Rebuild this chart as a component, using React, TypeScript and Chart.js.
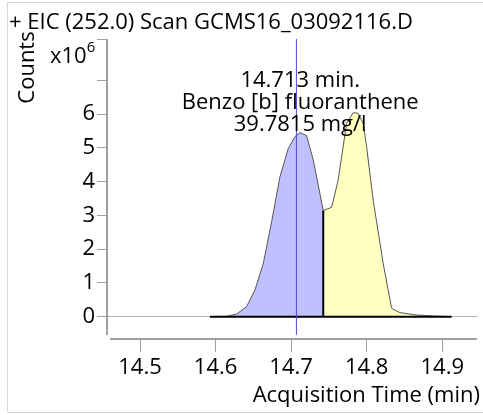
import React, { useEffect, useRef } from "react";
import { Chart, registerables } from "chart.js";

Chart.register(...registerables);

// ---- data (counts in units of 10^6) ----
const peakATimes = [14.5926, 14.6147, 14.6279, 14.6411, 14.6521, 14.6632, 14.6742, 14.6852, 14.6962, 14.705, 14.7116, 14.7205, 14.7293, 14.7425];
const peakACounts = [0, 0.01, 0.08, 0.3, 0.79, 1.58, 2.81, 4.14, 4.98, 5.33, 5.45, 5.36, 4.64, 3.14];
const peakBTimes = [14.7425, 14.7536, 14.7623, 14.7734, 14.7822, 14.7888, 14.7954, 14.7999, 14.8086, 14.8218, 14.833, 14.8439, 14.866, 14.888, 14.9123];
const peakBCounts = [3.14, 3.24, 4.05, 5.72, 6.04, 6.02, 5.72, 5.03, 3.45, 1.58, 0.25, 0.12, 0.05, 0.02, 0];
const baselineTimes = [14.5926, 14.9123];
const baselineCounts = [0, 0];
const splitTimes = [14.7425, 14.7425];
const splitCounts = [0, 3.14];
const markerTimes = [14.707, 14.707];
const markerCounts = [-0.54, 8.22];
const xTickValues = [14.5, 14.6, 14.7, 14.8, 14.9];
const yTickValues = [0, 1, 2, 3, 4, 5, 6, 7];
const yLabelledMax = 6;
const xRange = [14.4563, 14.946];
const yRange = [-0.66, 8.22];

const titleText = "+ EIC (252.0) Scan GCMS16_03092116.D";
const yTitle = "Counts";
const yMultiplierBase = "x10";
const yMultiplierExp = "6";
const xTitle = "Acquisition Time (min)";
const annotationLines = ["14.713 min.", "Benzo [b] fluoranthene", "39.7815 mg/l"];
const annotationTime = 14.712;

const FONT = '"Open Sans", "DejaVu Sans", sans-serif';

const zip = (xs: number[], ys: number[]) => xs.map((x, i) => ({ x, y: ys[i] }));

export default function App() {
  const ref = useRef<HTMLCanvasElement | null>(null);

  useEffect(() => {
    document.body.style.margin = "0";
    const canvas = ref.current!;
    const decor = {
      id: "decor",
      beforeDraw(chart: any) {
        const c = chart.ctx;
        c.save();
        c.strokeStyle = "#d8d8d8";
        c.lineWidth = 1;
        c.beginPath();
        c.moveTo(483, 2.5);
        c.lineTo(7.5, 2.5);
        c.lineTo(7.5, 412.5);
        c.lineTo(483, 412.5);
        c.stroke();
        c.restore();
      },
      afterDraw(chart: any) {
        const c = chart.ctx;
        const a = chart.chartArea;
        const xs = chart.scales.x;
        c.save();
        // axis lines with a gap at the corner
        c.strokeStyle = "#a0a0a0";
        c.lineWidth = 2;
        c.beginPath();
        c.moveTo(a.left, a.top);
        c.lineTo(a.left, a.bottom - 4);
        c.moveTo(a.left + 3, a.bottom);
        c.lineTo(a.right, a.bottom);
        c.stroke();

        c.fillStyle = "#000";
        c.textBaseline = "alphabetic";
        c.font = `22px ${FONT}`;
        c.textAlign = "left";
        c.fillText(titleText, 9, 28.5);

        // y title
        c.save();
        c.translate(33.5, 67.5);
        c.rotate(-Math.PI / 2);
        c.textAlign = "center";
        c.fillText(yTitle, 0, 0);
        c.restore();

        // multiplier
        c.textAlign = "left";
        c.fillText(yMultiplierBase, 50, 63);
        const w = c.measureText(yMultiplierBase).width;
        c.font = `15px ${FONT}`;
        c.fillText(yMultiplierExp, 50 + w, 52);

        // x title
        c.font = `22px ${FONT}`;
        c.textAlign = "right";
        c.fillText(xTitle, 480, 402);

        // annotation
        c.textAlign = "center";
        const ax = xs.getPixelForValue(annotationTime);
        annotationLines.forEach((t, i) => c.fillText(t, ax, a.top + 48 + i * 22));
        c.restore();
      },
    };

    const chart = new Chart(canvas, {
      type: "line",
      data: {
        datasets: [
          {
            data: zip(markerTimes, markerCounts),
            borderColor: "#4b4bd6",
            borderWidth: 1,
            pointRadius: 0,
            fill: false,
            order: 0,
          },
          {
            data: zip(splitTimes, splitCounts),
            borderColor: "#000",
            borderWidth: 2,
            pointRadius: 0,
            fill: false,
            order: 1,
          },
          {
            data: zip(baselineTimes, baselineCounts),
            borderColor: "#000",
            borderWidth: 2,
            pointRadius: 0,
            fill: false,
            order: 1,
          },
          {
            data: zip(peakATimes, peakACounts),
            borderColor: "#555555",
            backgroundColor: "#c0c0ff",
            borderWidth: 1,
            pointRadius: 0,
            fill: "origin",
            order: 2,
          },
          {
            data: zip(peakBTimes, peakBCounts),
            borderColor: "#555555",
            backgroundColor: "#ffffc0",
            borderWidth: 1,
            pointRadius: 0,
            fill: "origin",
            order: 2,
          },
        ],
      },
      options: {
        responsive: false,
        animation: false,
        events: [],
        layout: { padding: { top: 39, right: 6, left: 0, bottom: 0 } },
        plugins: { legend: { display: false }, tooltip: { enabled: false }, title: { display: false } },
        scales: {
          x: {
            type: "linear",
            min: xRange[0],
            max: xRange[1],
            afterFit: (s: any) => {
              s.height = 76;
            },
            afterBuildTicks: (s: any) => {
              s.ticks = xTickValues.map((v) => ({ value: v }));
            },
            border: { display: false },
            grid: { drawOnChartArea: false, drawTicks: true, tickLength: 13, tickColor: "#a0a0a0", lineWidth: 1 },
            ticks: {
              color: "#000",
              font: { family: FONT, size: 22 },
              padding: 3,
              maxRotation: 0,
              autoSkip: false,
              callback: (v: any) => Number(v).toFixed(1),
            },
          },
          y: {
            type: "linear",
            min: yRange[0],
            max: yRange[1],
            afterFit: (s: any) => {
              s.width = 107;
            },
            afterBuildTicks: (s: any) => {
              s.ticks = [...yTickValues, yRange[1]].map((v) => ({ value: v }));
            },
            border: { display: false },
            grid: {
              drawOnChartArea: true,
              drawTicks: true,
              tickLength: 10,
              tickColor: "#a0a0a0",
              lineWidth: 1,
              color: (ctx: any) => (ctx.tick && ctx.tick.value === 0 ? "#b0b0b0" : "rgba(0,0,0,0)"),
            },
            ticks: {
              color: "#000",
              font: { family: FONT, size: 22 },
              padding: 2,
              autoSkip: false,
              callback: (v: any) => (Number(v) <= yLabelledMax && Number.isInteger(Number(v)) ? String(v) : ""),
            },
          },
        },
      },
      plugins: [decor],
    } as any);
    return () => chart.destroy();
  }, []);

  return (
    <div style={{ width: 483, height: 415, position: "relative" }}>
      <canvas ref={ref} width={483} height={415} style={{ display: "block", width: 483, height: 415 }} />
    </div>
  );
}
